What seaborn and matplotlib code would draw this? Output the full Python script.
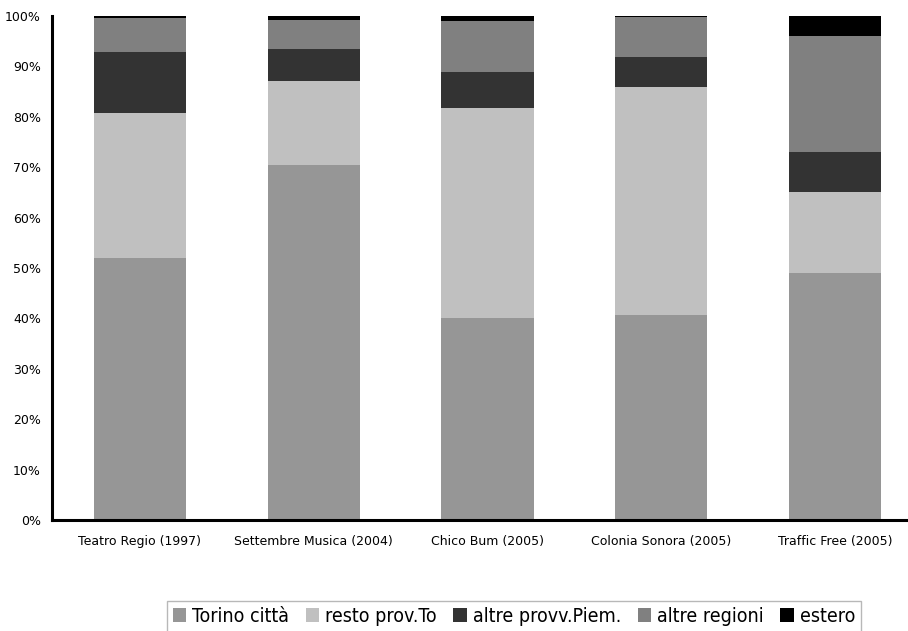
import matplotlib
matplotlib.use("Agg")
import matplotlib.pyplot as plt
import seaborn as sns
import numpy as np
from matplotlib.patches import Patch

# Provenienza del pubblico per evento (% sul totale)
events = ["Teatro Regio (1997)", "Settembre Musica (2004)", "Chico Bum (2005)",
          "Colonia Sonora (2005)", "Traffic Free (2005)"]
series = ["Torino città", "resto prov.To", "altre provv.Piem.", "altre regioni", "estero"]
torino_citta = [52.0, 70.4, 40.1, 40.7, 49.0]
resto_prov_to = [28.7, 16.7, 41.6, 45.2, 16.1]
altre_provv_piem = [12.2, 6.4, 7.2, 6.0, 7.9]
altre_regioni = [6.8, 5.7, 10.1, 7.9, 23.0]
estero = [0.3, 0.8, 1.0, 0.2, 4.0]
colors = ["#969696", "#c0c0c0", "#333333", "#808080", "#000000"]
yticks = [0, 10, 20, 30, 40, 50, 60, 70, 80, 90, 100]

sns.set_theme(style="white")
plt.rcParams["font.family"] = ["DejaVu Sans"]
plt.rcParams["text.color"] = "black"

fig = plt.figure(figsize=(9.08, 6.31), dpi=100)
ax = fig.add_axes([52 / 908, 1 - 520 / 631, 1 - 52 / 908, 504 / 631])

layers = [torino_citta, resto_prov_to, altre_provv_piem, altre_regioni, estero]
cumulative = np.cumsum(np.array(layers), axis=0)

# Stack by drawing cumulative totals from the top layer down
for i in range(len(series) - 1, -1, -1):
    sns.barplot(x=events, y=cumulative[i], color=colors[i], saturation=1,
                width=0.53, linewidth=0, ax=ax)

ax.set_xlim(-0.506, 4.42)
ax.set_ylim(0, 100)
ax.set_yticks(yticks)
ax.set_yticklabels([f"{v}%" for v in yticks])
ax.tick_params(axis="both", length=0, labelsize=9, colors="black")
ax.tick_params(axis="y", pad=8)
ax.tick_params(axis="x", pad=11)
ax.set_xlabel("")
ax.set_ylabel("")
for s in ["top", "right"]:
    ax.spines[s].set_visible(False)
for s in ["left", "bottom"]:
    ax.spines[s].set_color("black")
    ax.spines[s].set_linewidth(2.2)

handles = [Patch(facecolor=c, edgecolor="none") for c in colors]
leg = fig.legend(handles, series, loc="upper left", bbox_to_anchor=(167 / 908, 1 - 601 / 631),
                 ncol=5, frameon=True, fancybox=False, borderaxespad=0,
                 handlelength=0.7, handleheight=0.7, handletextpad=0.3,
                 columnspacing=0.85, borderpad=0.3,
                 prop={"size": 14, "stretch": "condensed"})
leg.get_frame().set_edgecolor("#a6a6a6")
leg.get_frame().set_linewidth(1.0)
for t in leg.get_texts():
    t.set_color("black")

fig.savefig("out.png", dpi=100)
